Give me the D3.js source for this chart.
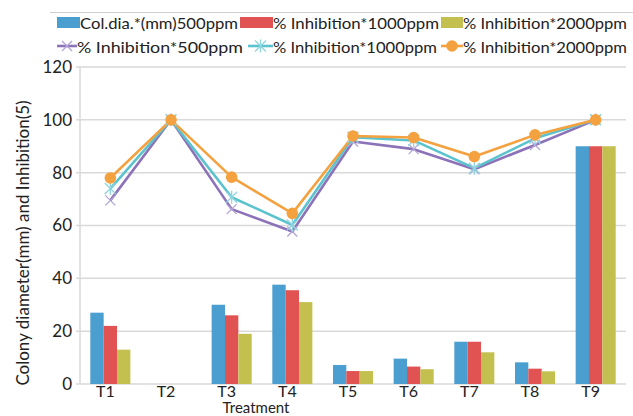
<!DOCTYPE html>
<html><head><meta charset="utf-8">
<script src="https://cdn.jsdelivr.net/npm/d3@7"></script>
<style>body{margin:0;background:#fff}svg{display:block}text{font-family:Lato,"Open Sans",sans-serif;fill:#222}</style>
</head><body><svg id="c" width="633" height="416"></svg>
<script>
const categories = ["T1","T2","T3","T4","T5","T6","T7","T8","T9"];
const barSeries = ["Col.dia.*(mm)500ppm","% Inhibition*1000ppm","% Inhibition*2000ppm"];
const colDia500 = [27,0,30,37.6,7.2,9.6,16,8.2,90];
const colDia1000 = [22,0,26,35.5,4.9,6.6,16,5.8,90];
const colDia2000 = [13,0,19,31,4.9,5.6,12,4.8,90];
const lineSeries = ["% Inhibition*500ppm","% Inhibition*1000ppm","% Inhibition*2000ppm"];
const inh500 = [69.5,100,66.2,57.7,91.8,88.9,81.3,90.5,100];
const inh1000 = [74,100,70.7,60.2,93.4,92.2,81.7,93,100];
const inh2000 = [78,100,78.3,64.6,93.9,93.3,86.1,94.3,100];
const yTicks = [0,20,40,60,80,100,120];

const barColors = ["#4a9fd0","#e05352","#c4c050"];
const lineColors = ["#8c72b8","#5bc3cd","#f4a140"];
const markerColors = ["#b3a4d6","#8fd6de","#f4a140"];

const svg = d3.select("#c");
const L = 80, R = 626, T = 67, B = 384;
const x = d3.scaleBand().domain(categories).range([L,R]).padding(0);
const xs = d3.scaleBand().domain([0,1,2]).range([x.bandwidth()*0.17, x.bandwidth()*0.83]).padding(0);
const y = d3.scaleLinear().domain([0,120]).range([B,T]);

// gridlines
svg.append("g").selectAll("line").data(yTicks).join("line")
  .attr("x1",L-4).attr("x2",R).attr("y1",d=>y(d)).attr("y2",d=>y(d))
  .attr("stroke","#d9d9d9").attr("stroke-width",1.5);
svg.append("line").attr("x1",L).attr("x2",L).attr("y1",T).attr("y2",B)
  .attr("stroke","#d9d9d9").attr("stroke-width",1.5);

// y axis labels
const yAxis = d3.axisLeft(y).tickValues(yTicks).tickSize(0).tickPadding(8);
const gy = svg.append("g").attr("transform",`translate(${L},0)`).call(yAxis);
gy.select(".domain").remove();
gy.selectAll("text").style("font-size","17px").attr("fill","#222").attr("font-family","Lato");

// x axis labels
const xAxis = d3.axisBottom(x).tickSize(0).tickPadding(2);
const gx = svg.append("g").attr("transform",`translate(-5,${B})`).call(xAxis);
gx.select(".domain").remove();
gx.selectAll("text").style("font-size","16px").attr("fill","#222").attr("font-family","Lato");

// bars
const barData = [colDia500,colDia1000,colDia2000];
barData.forEach((arr,si)=>{
  svg.append("g").selectAll("rect").data(arr).join("rect")
    .attr("x",(d,i)=>x(categories[i])+xs(si))
    .attr("width",xs.bandwidth())
    .attr("y",d=>y(d)).attr("height",d=>B-y(d))
    .attr("fill",barColors[si]);
});

// lines
const lineData = [inh500,inh1000,inh2000];
const line = d3.line().x((d,i)=>x(categories[i])+x.bandwidth()/2).y(d=>y(d));
lineData.forEach((arr,si)=>{
  svg.append("path").datum(arr).attr("d",line).attr("fill","none")
    .attr("stroke",lineColors[si]).attr("stroke-width",2.6).attr("stroke-linejoin","round");
});
function marker(g,si,cx,cy){
  if(si===0){
    const s=5;
    g.append("path").attr("d",`M${cx-s},${cy-s}L${cx+s},${cy+s}M${cx-s},${cy+s}L${cx+s},${cy-s}`)
      .attr("stroke",markerColors[0]).attr("stroke-width",1.3);
  } else if(si===1){
    const s=5.5;
    g.append("path").attr("d",`M${cx-s},${cy-s}L${cx+s},${cy+s}M${cx-s},${cy+s}L${cx+s},${cy-s}M${cx},${cy-s-1}L${cx},${cy+s+1}`)
      .attr("stroke",markerColors[1]).attr("stroke-width",1.3);
  } else {
    g.append("circle").attr("cx",cx).attr("cy",cy).attr("r",5.8).attr("fill",markerColors[2]);
  }
}
lineData.forEach((arr,si)=>{
  const g = svg.append("g");
  arr.forEach((d,i)=>marker(g,si,x(categories[i])+x.bandwidth()/2,y(d)));
});

// axis titles
svg.append("text").attr("transform","translate(29,243) rotate(-90)").attr("text-anchor","middle")
  .style("font-size","17px").text("Colony diameter(mm) and Inhibition(5)");
svg.append("text").attr("x",256).attr("y",413).attr("text-anchor","middle")
  .style("font-size","15px").text("Treatment");

// legend
svg.append("line").attr("x1",50).attr("x2",633).attr("y1",12.5).attr("y2",12.5).attr("stroke","#cfcfcf").attr("stroke-width",1);
const cols = [57,240,441];
const swW = [23,33,22];
const txtW = [158,166,164];
barSeries.forEach((s,i)=>{
  svg.append("rect").attr("x",cols[i]).attr("y",17).attr("width",swW[i]).attr("height",11).attr("fill",barColors[i]);
  svg.append("text").attr("x",cols[i]+swW[i]).attr("y",28.5).style("font-size","16px")
    .attr("textLength",txtW[i]).attr("lengthAdjust","spacingAndGlyphs").text(s);
});
const cols2 = [57,248,441];
const lw = [20,25,22];
const txtW2 = [166,164,164];
lineSeries.forEach((s,i)=>{
  const cy = 46;
  svg.append("line").attr("x1",cols2[i]).attr("x2",cols2[i]+lw[i]).attr("y1",cy).attr("y2",cy)
    .attr("stroke",lineColors[i]).attr("stroke-width",2.6);
  marker(svg,i,cols2[i]+lw[i]/2,cy);
  svg.append("text").attr("x",cols2[i]+lw[i]).attr("y",cy+6.5).style("font-size","16px")
    .attr("textLength",txtW2[i]).attr("lengthAdjust","spacingAndGlyphs").text(s);
});
</script></body></html>
